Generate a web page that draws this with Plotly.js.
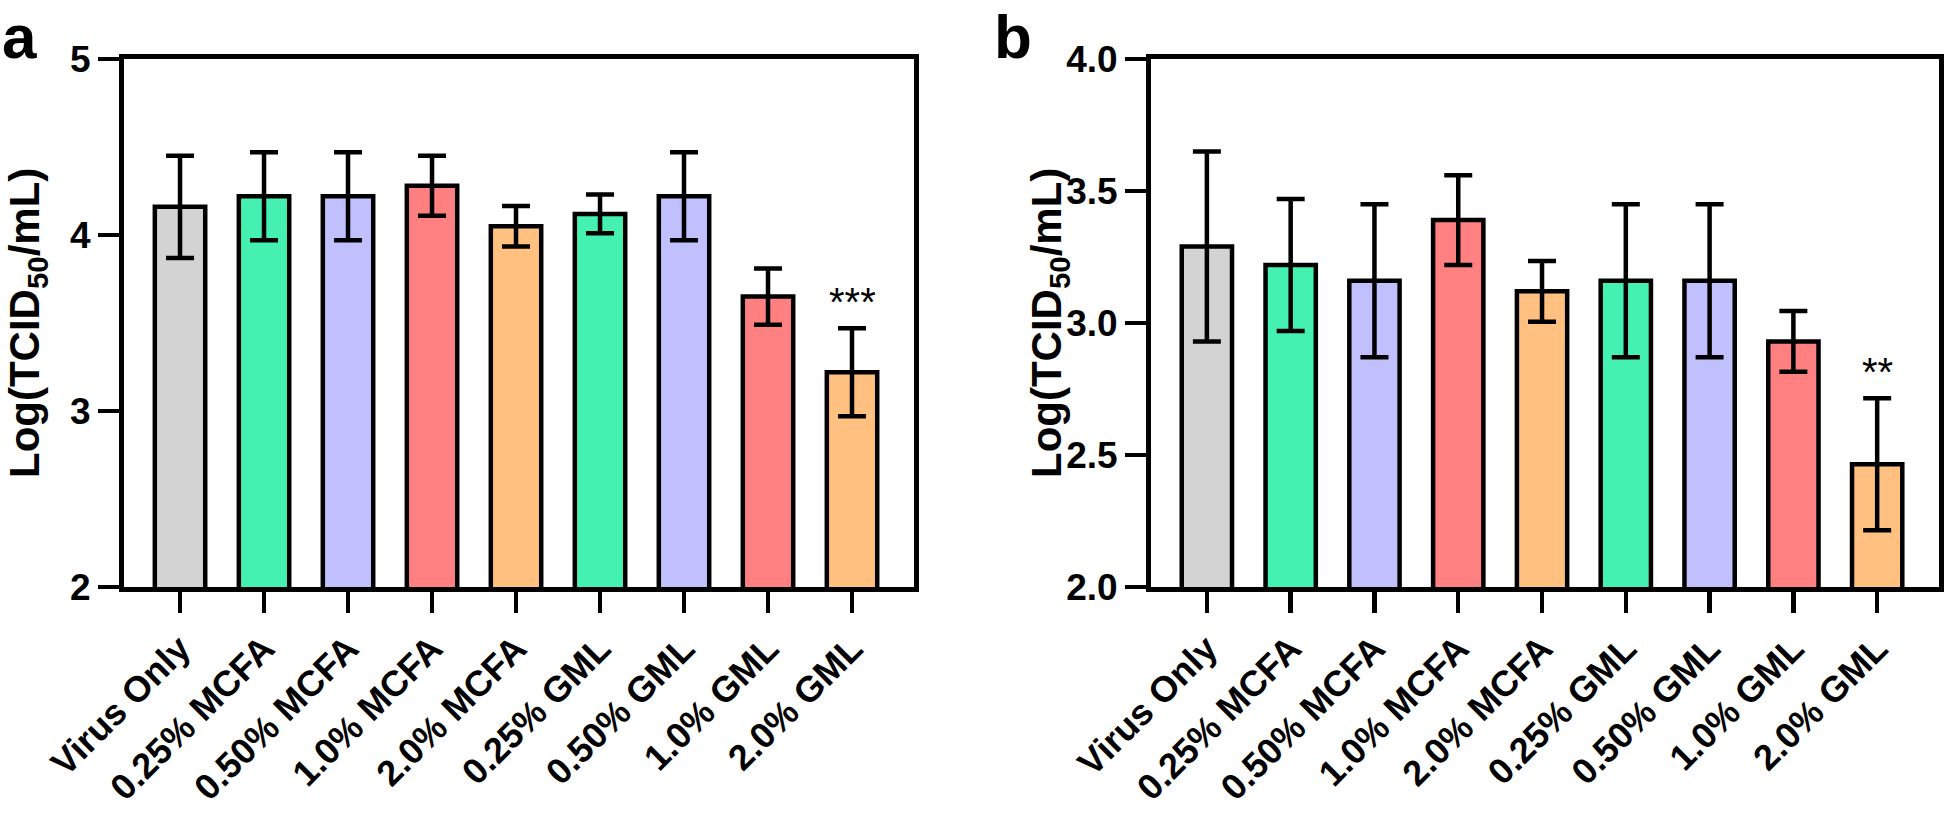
<!DOCTYPE html>
<html>
<head>
<meta charset="utf-8">
<script src="https://cdn.plot.ly/plotly-3.0.1.min.js"></script>
<style>
html,body{margin:0;padding:0;background:#fff;}
#chart{width:1946px;height:814px;}
</style>
</head>
<body>
<div id="chart"></div>
<script>
// ---- data ----
const categories = ['Virus Only','0.25% MCFA','0.50% MCFA','1.0% MCFA','2.0% MCFA','0.25% GML','0.50% GML','1.0% GML','2.0% GML'];
const barColors = ['#D3D3D3','#45F1B1','#C0C0FF','#FF8080','#FFC080','#45F1B1','#C0C0FF','#FF8080','#FFC080'];
const meanA = [4.16, 4.22, 4.22, 4.28, 4.05, 4.12, 4.22, 3.65, 3.22];
const errA  = [0.29, 0.25, 0.25, 0.17, 0.115, 0.11, 0.25, 0.16, 0.25];
const sigA  = ['', '', '', '', '', '', '', '', '***'];
const meanB = [3.29, 3.22, 3.16, 3.39, 3.12, 3.16, 3.16, 2.93, 2.465];
const errB  = [0.36, 0.25, 0.29, 0.17, 0.115, 0.29, 0.29, 0.115, 0.25];
const sigB  = ['', '', '', '', '', '', '', '', '**'];
const ticksA = [2, 3, 4, 5];
const ticksB = [2.0, 2.5, 3.0, 3.5, 4.0];
const yTitle = 'Log(TCID<sub>50</sub>/mL)';

// ---- layout helpers ----
const W = 1946, H = 814;
const FONT = 'Liberation Sans, Arial, sans-serif';
const px = v => v / W;
const py = v => 1 - v / H;

function barTrace(mean, err, xa, ya) {
  return {
    type: 'bar', x: categories, y: mean, xaxis: xa, yaxis: ya,
    width: 0.6,
    marker: {color: barColors, line: {color: '#000', width: 4.5}},
    error_y: {type: 'data', array: err, visible: true, color: '#000', thickness: 4.5, width: 14},
    hoverinfo: 'skip', showlegend: false
  };
}

function xAxis(domain, anchor) {
  return {
    domain: domain, anchor: anchor, type: 'category',
    range: [-0.667, 8.738],
    showline: true, linecolor: '#000', linewidth: 5, mirror: true,
    ticks: 'outside', ticklen: 21, tickwidth: 4.5, tickcolor: '#000',
    tickangle: -45,
    tickfont: {family: FONT, size: 36, color: '#000', weight: 'bold'},
    showgrid: false, zeroline: false, fixedrange: true
  };
}
function yAxis(anchor, range, tickvals, fmt) {
  return {
    domain: [py(587), py(59)], anchor: anchor, range: range,
    tickvals: tickvals, tickformat: fmt,
    showline: true, linecolor: '#000', linewidth: 5, mirror: true,
    ticks: 'outside', ticklen: 21, tickwidth: 4.5, tickcolor: '#000',
    tickfont: {family: FONT, size: 37, color: '#000', weight: 'bold'},
    showgrid: false, zeroline: false, fixedrange: true
  };
}

const annotations = [];
function addSig(sig, mean, err, xref, yref) {
  sig.forEach((s, i) => {
    if (!s) return;
    annotations.push({
      xref: xref, yref: yref, x: categories[i], y: mean[i] + err[i],
      text: s, showarrow: false, yanchor: 'bottom', yshift: 2,
      font: {family: FONT, size: 40, color: '#000'}
    });
  });
}
addSig(sigA, meanA, errA, 'x', 'y');
addSig(sigB, meanB, errB, 'x2', 'y2');
// y-axis titles
[28, 1050].forEach(cx => {
  annotations.push({xref: 'paper', yref: 'paper', x: px(cx), y: py(323), xanchor: 'center', yanchor: 'middle',
    textangle: -90, text: '<b>' + yTitle + '</b>', showarrow: false,
    font: {family: FONT, size: 42, color: '#000'}});
});
annotations.push({xref: 'paper', yref: 'paper', x: px(0), y: py(0), xanchor: 'left', yanchor: 'top',
  text: '<b>a</b>', showarrow: false, font: {family: FONT, size: 62, color: '#000'}});
annotations.push({xref: 'paper', yref: 'paper', x: px(992), y: py(0), xanchor: 'left', yanchor: 'top',
  text: '<b>b</b>', showarrow: false, font: {family: FONT, size: 62, color: '#000'}});

const layout = {
  width: W, height: H,
  margin: {l: 0, r: 0, t: 0, b: 0},
  paper_bgcolor: '#fff', plot_bgcolor: '#fff',
  xaxis: xAxis([px(124), px(914)], 'y'),
  yaxis: yAxis('x', [2, 5], ticksA, 'd'),
  xaxis2: xAxis([px(1151), px(1939)], 'y2'),
  yaxis2: yAxis('x2', [2, 4], ticksB, '.1f'),
  annotations: annotations,
  showlegend: false
};

Plotly.newPlot('chart', [barTrace(meanA, errA, 'x', 'y'), barTrace(meanB, errB, 'x2', 'y2')], layout, {staticPlot: true, displayModeBar: false});
</script>
</body>
</html>
